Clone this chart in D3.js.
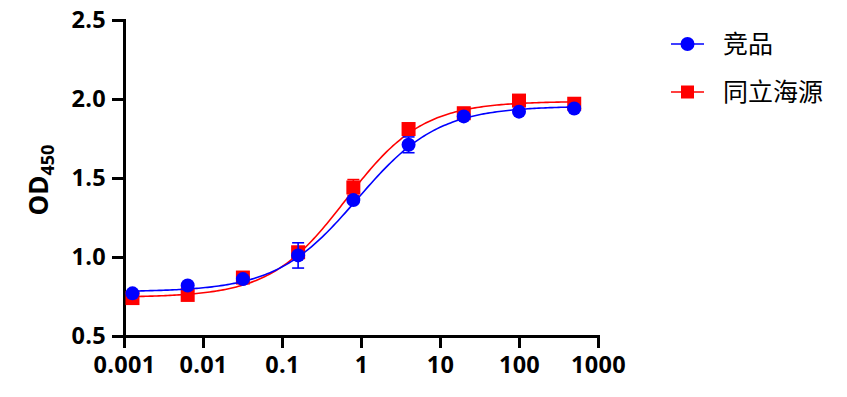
<!DOCTYPE html>
<html><head><meta charset="utf-8">
<script src="https://cdn.jsdelivr.net/npm/d3@7"></script>
<style>
body{margin:0;background:#fff;}
svg{display:block;}
</style></head>
<body>
<svg id="chart" width="847" height="397"></svg>
<script>
// ---- data ----
const seriesNames = ["竞品", "同立海源"];
const seriesColors = ["#0000FF", "#FF0000"];
const concentrations = [0.00128, 0.0064, 0.032, 0.16, 0.8, 4, 20, 100, 500];
const blueValues = [0.77, 0.82, 0.86, 1.01, 1.36, 1.71, 1.89, 1.92, 1.94];
const blueErrors = [0.01, 0.01, 0.01, 0.08, 0.01, 0.05, 0.01, 0.01, 0.01];
const redValues  = [0.74, 0.76, 0.87, 1.03, 1.44, 1.81, 1.91, 1.99, 1.97];
const redErrors  = [0.01, 0.01, 0.01, 0.02, 0.05, 0.01, 0.01, 0.01, 0.01];
// 4-parameter logistic fit parameters [bottom, top, EC50, hill]
const blueFit = [0.78, 1.955, 0.9, 0.85];
const redFit  = [0.745, 1.985, 0.65, 0.9];
const xTicks = [0.001, 0.01, 0.1, 1, 10, 100, 1000];
const xTickLabels = ["0.001", "0.01", "0.1", "1", "10", "100", "1000"];
const yTicks = [0.5, 1.0, 1.5, 2.0, 2.5];

const svg = d3.select("#chart");
const x = d3.scaleLog().domain([0.001, 1000]).range([124, 598]);
const y = d3.scaleLinear().domain([0.5, 2.5]).range([336, 20]);

const fontTick = "'Open Sans', 'DejaVu Sans', sans-serif";

// axes
const yAxis = d3.axisLeft(y).tickValues(yTicks).tickFormat(d3.format(".1f"))
  .tickSize(12).tickSizeOuter(0).tickPadding(6);
const gy = svg.append("g").attr("transform", "translate(124,0)").call(yAxis);
const xAxis = d3.axisBottom(x).tickValues(xTicks)
  .tickFormat((d, i) => xTickLabels[i]).tickSize(12).tickSizeOuter(0).tickPadding(8);
const gx = svg.append("g").attr("transform", "translate(0,336)").call(xAxis);
[gx, gy].forEach(g => {
  g.select(".domain").attr("stroke", "#000").attr("stroke-width", 3).attr("stroke-linecap", "square");
  g.selectAll(".tick line").attr("stroke", "#000").attr("stroke-width", 3);
  g.selectAll(".tick text").attr("fill", "#000")
    .style("font-family", fontTick).style("font-weight", "700").style("font-size", "23.5px")
    .style("letter-spacing", "0.3px");
});

// y label
svg.append("text")
  .attr("transform", "translate(48,180) rotate(-90)")
  .attr("text-anchor", "middle")
  .style("font-family", fontTick).style("font-weight", "700").style("font-size", "26px")
  .call(t => {
    t.append("tspan").text("OD");
    t.append("tspan").attr("dy", "6").style("font-size", "18px").text("450");
  });

function fourPL(p, c) {
  return p[0] + (p[1] - p[0]) / (1 + Math.pow(p[2] / c, p[3]));
}

function drawSeries(vals, errs, fit, color, shape) {
  const g = svg.append("g");
  // fitted curve
  const lo = Math.log10(concentrations[0]), hi = Math.log10(concentrations[concentrations.length - 1]);
  const pts = d3.range(0, 201).map(i => Math.pow(10, lo + (hi - lo) * i / 200));
  g.append("path").datum(pts)
    .attr("fill", "none").attr("stroke", color).attr("stroke-width", 1.6)
    .attr("d", d3.line().x(c => x(c)).y(c => y(fourPL(fit, c))));
  // error bars
  const data = concentrations.map((c, i) => ({ c, v: vals[i], e: errs[i] }));
  const eb = g.selectAll(".eb").data(data).enter().append("g")
    .attr("stroke", color).attr("stroke-width", 1.6);
  eb.append("line").attr("x1", d => x(d.c)).attr("x2", d => x(d.c))
    .attr("y1", d => y(d.v - d.e)).attr("y2", d => y(d.v + d.e));
  eb.append("line").attr("x1", d => x(d.c) - 6).attr("x2", d => x(d.c) + 6)
    .attr("y1", d => y(d.v + d.e)).attr("y2", d => y(d.v + d.e));
  eb.append("line").attr("x1", d => x(d.c) - 6).attr("x2", d => x(d.c) + 6)
    .attr("y1", d => y(d.v - d.e)).attr("y2", d => y(d.v - d.e));
  // markers
  if (shape === "circle") {
    g.selectAll(".m").data(data).enter().append("circle")
      .attr("cx", d => x(d.c)).attr("cy", d => y(d.v)).attr("r", 7).attr("fill", color);
  } else {
    g.selectAll(".m").data(data).enter().append("rect")
      .attr("x", d => x(d.c) - 7).attr("y", d => y(d.v) - 7)
      .attr("width", 14).attr("height", 14).attr("fill", color);
  }
}

drawSeries(redValues, redErrors, redFit, seriesColors[1], "square");
drawSeries(blueValues, blueErrors, blueFit, seriesColors[0], "circle");

// legend
const legendY = [44, 92];
seriesNames.forEach((name, i) => {
  const g = svg.append("g").attr("transform", `translate(0,${legendY[i]})`);
  g.append("line").attr("x1", 671).attr("x2", 704).attr("y1", 0).attr("y2", 0)
    .attr("stroke", seriesColors[i]).attr("stroke-width", 1.6);
  if (i === 0) g.append("circle").attr("cx", 687.5).attr("cy", 0).attr("r", 7).attr("fill", seriesColors[i]);
  else g.append("rect").attr("x", 681).attr("y", -6.5).attr("width", 13).attr("height", 13).attr("fill", seriesColors[i]);
  g.append("text").attr("x", 723).attr("y", 0).attr("dy", "0.36em")
    .style("font-family", "'Noto Sans CJK SC', sans-serif").style("font-size", "25px")
    .attr("fill", "#000").text(name);
});
</script>
</body></html>
